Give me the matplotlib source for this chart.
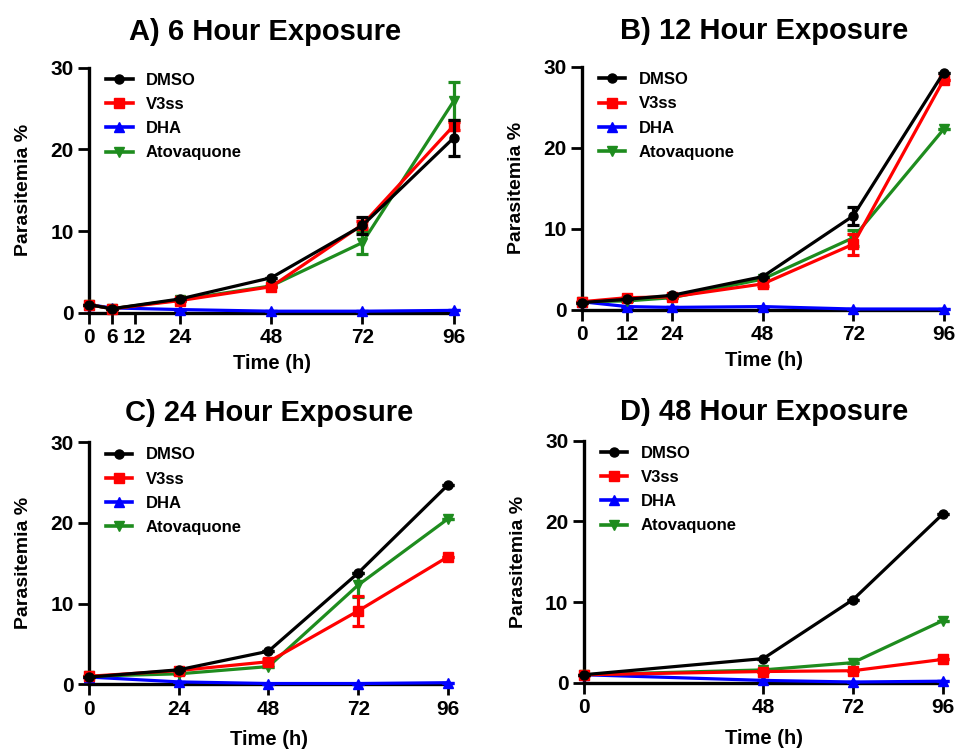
import matplotlib
matplotlib.use("Agg")
import matplotlib.pyplot as plt
from matplotlib.lines import Line2D

plt.rcParams['font.family'] = ['Liberation Sans', 'DejaVu Sans']
plt.rcParams['font.weight'] = 'bold'

# panel A: 6 hour exposure
time_a = [0, 6, 24, 48, 72, 96]
ticks_a = [0, 6, 12, 24, 48, 72, 96]
dmso_a = [1.0, 0.5, 1.7, 4.3, 10.7, 21.4]
dmso_a_err = [0, 0, 0, 0, 1.0, 2.2]
v3ss_a = [1.0, 0.5, 1.5, 3.2, 10.8, 22.9]
v3ss_a_err = [0, 0, 0, 0, 0.4, 0.5]
dha_a = [1.0, 0.6, 0.4, 0.2, 0.2, 0.3]
dha_a_err = [0, 0, 0, 0, 0, 0]
atov_a = [1.0, 0.5, 1.6, 3.3, 8.6, 25.9]
atov_a_err = [0, 0, 0, 0, 1.4, 2.3]

# panel B: 12 hour exposure
time_b = [0, 12, 24, 48, 72, 96]
ticks_b = [0, 12, 24, 48, 72, 96]
dmso_b = [0.9, 1.3, 1.8, 4.1, 11.6, 29.3]
dmso_b_err = [0, 0, 0, 0, 1.1, 0]
v3ss_b = [1.0, 1.5, 1.6, 3.2, 8.1, 28.4]
v3ss_b_err = [0, 0, 0, 0.3, 1.3, 0]
dha_b = [1.0, 0.4, 0.3, 0.4, 0.1, 0.1]
dha_b_err = [0, 0, 0, 0, 0, 0]
atov_b = [1.0, 1.1, 1.5, 3.8, 8.9, 22.3]
atov_b_err = [0, 0, 0, 0, 1.0, 0]

# panel C: 24 hour exposure
time_c = [0, 24, 48, 72, 96]
ticks_c = [0, 24, 48, 72, 96]
dmso_c = [0.9, 1.8, 4.1, 13.8, 24.7]
dmso_c_err = [0, 0, 0, 0, 0]
v3ss_c = [1.0, 1.7, 2.8, 9.1, 15.8]
v3ss_c_err = [0, 0, 0.3, 1.9, 0]
dha_c = [0.9, 0.3, 0.1, 0.1, 0.2]
dha_c_err = [0, 0, 0, 0, 0]
atov_c = [1.0, 1.3, 2.2, 12.3, 20.5]
atov_c_err = [0, 0, 0, 1.5, 0]

# panel D: 48 hour exposure
time_d = [0, 48, 72, 96]
ticks_d = [0, 48, 72, 96]
dmso_d = [1.0, 3.0, 10.3, 20.9]
v3ss_d = [1.0, 1.4, 1.5, 2.9]
dha_d = [1.0, 0.3, 0.1, 0.2]
atov_d = [1.0, 1.6, 2.5, 7.7]
zero_d = [0, 0, 0, 0]

titles = ['A) 6 Hour Exposure', 'B) 12 Hour Exposure',
          'C) 24 Hour Exposure', 'D) 48 Hour Exposure']
names = ['DMSO', 'V3ss', 'DHA', 'Atovaquone']
colors = ['black', '#ff0000', '#0000ff', '#1e8c1e']
markers = ['o', 's', '^', 'v']

panels = [
    (time_a, ticks_a, [(dmso_a, dmso_a_err), (v3ss_a, v3ss_a_err), (dha_a, dha_a_err), (atov_a, atov_a_err)]),
    (time_b, ticks_b, [(dmso_b, dmso_b_err), (v3ss_b, v3ss_b_err), (dha_b, dha_b_err), (atov_b, atov_b_err)]),
    (time_c, ticks_c, [(dmso_c, dmso_c_err), (v3ss_c, v3ss_c_err), (dha_c, dha_c_err), (atov_c, atov_c_err)]),
    (time_d, ticks_d, [(dmso_d, zero_d), (v3ss_d, zero_d), (dha_d, zero_d), (atov_d, zero_d)]),
]

# axes boxes in figure fraction
boxes = [
    [0.093, 0.584, 0.383, 0.326],
    [0.608, 0.588, 0.380, 0.323],
    [0.093, 0.090, 0.377, 0.322],
    [0.610, 0.092, 0.377, 0.322],
]
title_x = [0.48, 0.5, 0.5, 0.5]
title_pad = [20, 20, 15, 15]
xlab_pad = [5, 5, 8.5, 8.5]

fig = plt.figure(figsize=(9.57, 7.52), dpi=100)

for k in range(4):
    t, ticks, series = panels[k]
    ax = fig.add_axes(boxes[k])
    # draw back to front so DMSO ends on top
    zs = [6, 5, 3, 4]
    handles = []
    for i in range(4):
        y, e = series[i]
        h = ax.errorbar(t, y, yerr=e, color=colors[i], marker=markers[i],
                        markersize=6.5, linewidth=2.3, elinewidth=2.3,
                        capsize=4.5, capthick=2.3, zorder=zs[i])
        h.lines[0].set_clip_on(False)
        for c in h.lines[1]:
            c.set_clip_on(False)
        for c in h.lines[2]:
            c.set_clip_on(False)
        handles.append(Line2D([], [], color=colors[i], marker=markers[i],
                              markersize=6.5, linewidth=2.6))
    ax.set_xlim(0, 96.5)
    ax.set_ylim(0, 30)
    ax.set_xticks(ticks)
    ax.set_yticks([0, 10, 20, 30])
    ax.spines['top'].set_visible(False)
    ax.spines['right'].set_visible(False)
    ax.spines['left'].set_linewidth(2.4)
    ax.spines['bottom'].set_linewidth(2.4)
    ax.tick_params(width=2.0, length=8, labelsize=15, pad=3)
    for lab in ax.get_xticklabels() + ax.get_yticklabels():
        lab.set_fontweight('bold')
    ax.set_xlabel('Time (h)', fontsize=14.5, fontweight='bold', labelpad=xlab_pad[k])
    ax.set_ylabel('Parasitemia %', fontsize=14, fontweight='bold', labelpad=13)
    ax.set_title(titles[k], fontsize=21, fontweight='bold', pad=title_pad[k], x=title_x[k])
    ax.legend(handles, names, loc='upper left', bbox_to_anchor=(0.005, 1.04),
              frameon=False, prop={'size': 12, 'weight': 'bold'},
              handlelength=1.6, handletextpad=0.8, labelspacing=0.55)

fig.savefig('out.png', dpi=100)
